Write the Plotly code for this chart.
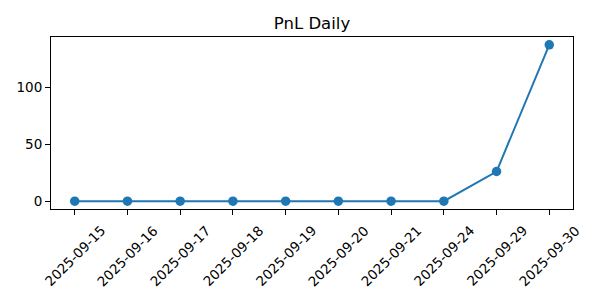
import plotly.graph_objects as go

dates = ["2025-09-15", "2025-09-16", "2025-09-17", "2025-09-18", "2025-09-19",
         "2025-09-20", "2025-09-21", "2025-09-24", "2025-09-29", "2025-09-30"]
pnl = [0, 0, 0, 0, 0, 0, 0, 0, 26, 137]
y_ticks = [0, 50, 100]

FONT = "DejaVu Sans"
BLUE = "#1f77b4"

fig = go.Figure()
fig.add_trace(go.Scatter(
    x=dates, y=pnl, mode="lines+markers",
    line=dict(color=BLUE, width=2),
    marker=dict(color=BLUE, size=9.5),
    showlegend=False,
))

lo, hi = min(pnl), max(pnl)
pad = (hi - lo) * 0.05
n = len(dates)

fig.update_layout(
    width=600, height=300,
    margin=dict(l=51, r=27, t=37, b=91),
    paper_bgcolor="white", plot_bgcolor="white",
    font=dict(family=FONT, color="black", size=13),
    title=dict(text="PnL Daily", x=312 / 600, xanchor="center",
               y=1 - 23 / 300, yref="container", yanchor="middle",
               font=dict(family=FONT, size=16.5, color="black")),
    xaxis=dict(type="category", range=[-0.45, n - 1 + 0.45],
               showline=True, linecolor="black", linewidth=1, mirror=True,
               ticks="outside", ticklen=5, tickcolor="black", tickwidth=1,
               showgrid=False, zeroline=False, showticklabels=False,
               categoryorder="array", categoryarray=dates),
    yaxis=dict(range=[lo - pad, hi + pad],
               showline=True, linecolor="black", linewidth=1, mirror=True,
               ticks="outside", ticklen=5, tickcolor="black", tickwidth=1,
               tickvals=y_ticks, ticktext=[str(v) for v in y_ticks],
               tickfont=dict(size=13.5),
               showgrid=False, zeroline=False),
)

for d in dates:
    fig.add_annotation(x=d, xref="x", y=0, yref="paper", yshift=-11,
                       text=d, textangle=-45, showarrow=False,
                       xanchor="center", yanchor="top",
                       font=dict(family=FONT, size=13.5, color="black"))

fig.write_html("out.html")
